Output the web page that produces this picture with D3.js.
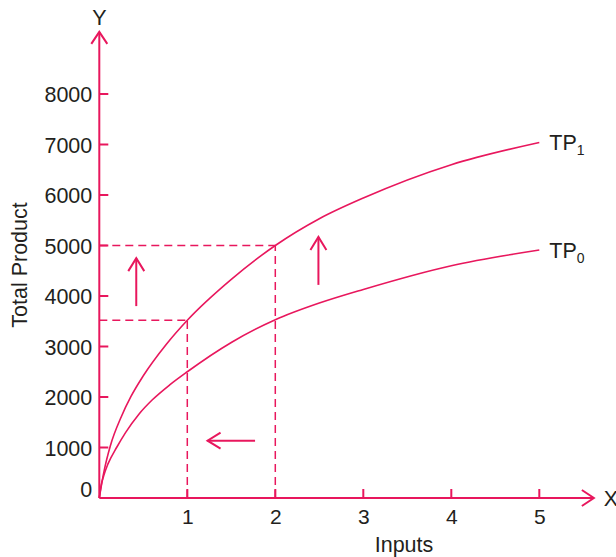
<!DOCTYPE html>
<html>
<head>
<meta charset="utf-8">
<script src="https://cdn.jsdelivr.net/npm/d3@7"></script>
<style>
  html, body { margin: 0; padding: 0; background: #fff; }
  svg { display: block; }
  text { font-family: "Liberation Sans", Arial, Helvetica, sans-serif; fill: #231f20; }
</style>
</head>
<body>
<svg id="chart" width="616" height="557"></svg>
<script>
// ---- data ----
const xTicks = [1, 2, 3, 4, 5];
const yTicks = [0, 1000, 2000, 3000, 4000, 5000, 6000, 7000, 8000];
const tp1Inputs = [0, 0.03, 0.06, 0.125, 0.25, 0.36, 0.5, 0.76, 1, 1.5, 2, 2.5, 3, 4, 5];
const tp1Values = [0, 310, 580, 1030, 1610, 2010, 2420, 3040, 3520, 4330, 5000, 5530, 5940, 6600, 7040];
const tp0Inputs = [0, 0.02, 0.05, 0.1, 0.2, 0.3, 0.45, 0.6, 0.8, 1, 1.5, 2, 2.5, 3, 4, 5];
const tp0Values = [0, 240, 440, 680, 1010, 1300, 1660, 1940, 2240, 2500, 3080, 3530, 3860, 4130, 4600, 4910];
const seriesNames = ["TP1", "TP0"];
const guideInputs = [1, 2];
const guideOutputs = [3520, 5000];
// shift arrows (in data units): [fromInput, fromOutput, toInput, toOutput]
const shiftArrows = [
  [0.42, 3800, 0.42, 4750],
  [2.49, 4220, 2.49, 5170],
  [1.77, 1135, 1.23, 1135]
];
const axisEnds = { input: 5.62, output: 9230 };

// ---- setup ----
const color = "#e8175d";
const svg = d3.select("#chart");
const x = d3.scaleLinear().domain([0, 5]).range([99.3, 539.3]);
const y = d3.scaleLinear().domain([0, 8000]).range([498, 94]);

function arrowHead(g, tipX, tipY, dirX, dirY, len, half, width) {
  const bx = tipX - dirX * len, by = tipY - dirY * len;
  const px = -dirY, py = dirX;
  g.append("path")
    .attr("d", `M${bx + px * half},${by + py * half}L${tipX},${tipY}L${bx - px * half},${by - py * half}`)
    .attr("fill", "none").attr("stroke", color).attr("stroke-width", width)
    .attr("stroke-linejoin", "miter").attr("stroke-linecap", "butt");
}

// ---- guides (dashed) ----
const guides = svg.append("g").attr("stroke", color).attr("stroke-width", 1.5)
  .attr("stroke-dasharray", "8,5").attr("fill", "none");
guideInputs.forEach((gx, i) => {
  guides.append("line").attr("x1", x(0)).attr("x2", x(gx))
    .attr("y1", y(guideOutputs[i])).attr("y2", y(guideOutputs[i]));
  guides.append("line").attr("x1", x(gx)).attr("x2", x(gx))
    .attr("y1", y(0)).attr("y2", y(guideOutputs[i]));
});

// ---- curves ----
const line = d3.line().x(d => x(d[0])).y(d => y(d[1])).curve(d3.curveMonotoneX);
const tp1 = tp1Inputs.map((v, i) => [v, tp1Values[i]]);
const tp0 = tp0Inputs.map((v, i) => [v, tp0Values[i]]);
[tp1, tp0].forEach(s => {
  svg.append("path").attr("d", line(s)).attr("fill", "none")
    .attr("stroke", color).attr("stroke-width", 1.6);
});

// series labels
[tp1, tp0].forEach((s, i) => {
  const last = s[s.length - 1];
  const t = svg.append("text").attr("x", x(last[0]) + 10).attr("y", y(last[1]) + 8)
    .attr("font-size", 21.5);
  t.append("tspan").text(seriesNames[i].slice(0, 2));
  t.append("tspan").attr("font-size", 14).attr("dy", 5).text(seriesNames[i].slice(2));
});

// ---- axes ----
const ax = svg.append("g");
ax.append("line").attr("x1", x(0)).attr("x2", x(axisEnds.input))
  .attr("y1", y(0)).attr("y2", y(0)).attr("stroke", color).attr("stroke-width", 2);
ax.append("line").attr("x1", x(0)).attr("x2", x(0))
  .attr("y1", y(0)).attr("y2", y(axisEnds.output)).attr("stroke", color).attr("stroke-width", 2);
arrowHead(ax, x(axisEnds.input), y(0), 1, 0, 12, 8, 2);
arrowHead(ax, x(0), y(axisEnds.output), 0, -1, 12, 8, 2);

// y axis ticks & labels (via d3 axis)
const yAxis = d3.axisLeft(y).tickValues(yTicks).tickSize(0).tickPadding(7)
  .tickFormat(d3.format("d"));
const yg = svg.append("g").attr("transform", `translate(${x(0)},0)`).call(yAxis);
yg.select(".domain").remove();
yg.selectAll("text").attr("font-size", 21.5).attr("font-family", null)
  .attr("fill", "#231f20")
  .attr("dy", d => d === 0 ? "-0.05em" : "0.35em");
yTicks.filter(d => d > 0).forEach(d => {
  svg.append("line").attr("x1", x(0)).attr("x2", x(0) + 9)
    .attr("y1", y(d)).attr("y2", y(d)).attr("stroke", color).attr("stroke-width", 2);
});

// x axis ticks & labels
const xAxis = d3.axisBottom(x).tickValues(xTicks).tickSize(0).tickPadding(11)
  .tickFormat(d3.format("d"));
const xg = svg.append("g").attr("transform", `translate(0,${y(0)})`).call(xAxis);
xg.select(".domain").remove();
xg.selectAll("text").attr("font-size", 21).attr("font-family", null).attr("fill", "#231f20");
xTicks.forEach(d => {
  svg.append("line").attr("x1", x(d)).attr("x2", x(d))
    .attr("y1", y(0)).attr("y2", y(0) - 9).attr("stroke", color).attr("stroke-width", 2);
});

// axis titles
svg.append("text").attr("x", x(0)).attr("y", 25).attr("text-anchor", "middle")
  .attr("font-size", 21.5).text("Y");
svg.append("text").attr("x", x(axisEnds.input) + 10).attr("y", y(0) + 8)
  .attr("font-size", 21.5).text("X");
svg.append("text").attr("x", 404).attr("y", 552).attr("text-anchor", "middle")
  .attr("font-size", 21.5).text("Inputs");
svg.append("text").attr("transform", "translate(27,265) rotate(-90)")
  .attr("text-anchor", "middle").attr("font-size", 21.5).text("Total Product");

// ---- shift arrows ----
shiftArrows.forEach(a => {
  const x1 = x(a[0]), y1 = y(a[1]), x2 = x(a[2]), y2 = y(a[3]);
  svg.append("line").attr("x1", x1).attr("y1", y1).attr("x2", x2).attr("y2", y2)
    .attr("stroke", color).attr("stroke-width", 2);
  const L = Math.hypot(x2 - x1, y2 - y1);
  arrowHead(svg, x2, y2, (x2 - x1) / L, (y2 - y1) / L, 13, 8, 2);
});
</script>
</body>
</html>
